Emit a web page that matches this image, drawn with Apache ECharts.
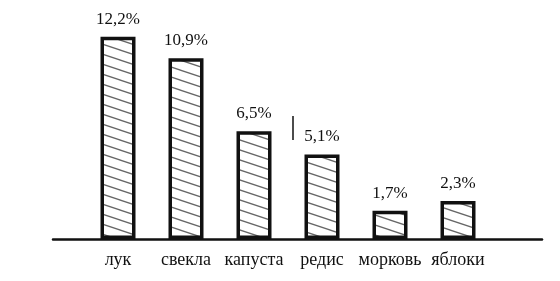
<!DOCTYPE html>
<html>
<head>
<meta charset="utf-8">
<script src="https://cdn.jsdelivr.net/npm/echarts@6/dist/echarts.min.js"></script>
<style>html,body{margin:0;padding:0;background:#fff}#c{width:560px;height:281px}</style>
</head>
<body>
<div id="c"></div>
<script>
const categories = ['лук', 'свекла', 'капуста', 'редис', 'морковь', 'яблоки'];
const values = [12.2, 10.9, 6.5, 5.1, 1.7, 2.3];

function hatch() {
  const w = 30, h = 10;
  const cv = document.createElement('canvas');
  cv.width = w; cv.height = h;
  const ctx = cv.getContext('2d');
  ctx.fillStyle = '#fff';
  ctx.fillRect(0, 0, w, h);
  ctx.strokeStyle = '#666';
  ctx.lineWidth = 1.3;
  for (let k = -1; k <= 1; k++) {
    ctx.beginPath();
    ctx.moveTo(-w, -h + k * h);
    ctx.lineTo(2 * w, 2 * h + k * h);
    ctx.stroke();
  }
  return cv;
}

const chart = echarts.init(document.getElementById('c'), null, {renderer: 'canvas'});
const font = '"Liberation Serif", "DejaVu Serif", serif';
chart.setOption({
  animation: false,
  backgroundColor: '#fff',
  grid: [
    {left: 84, right: 68, top: 7, bottom: 42},
    {left: 53, right: 18, top: 7, bottom: 42}
  ],
  xAxis: [
    {
      type: 'category', data: categories, gridIndex: 0,
      axisLine: {show: false}, axisTick: {show: false},
      axisLabel: {interval: 0, margin: 12, fontSize: 18, fontFamily: font, color: '#111'}
    },
    {
      type: 'value', gridIndex: 1, min: 0, max: 1,
      axisLine: {show: true, lineStyle: {color: '#111', width: 2.5}},
      axisTick: {show: false}, axisLabel: {show: false}, splitLine: {show: false}
    }
  ],
  yAxis: [
    {type: 'value', gridIndex: 0, min: 0, max: 14, show: false, splitLine: {show: false}},
    {type: 'value', gridIndex: 1, min: 0, max: 14, show: false, splitLine: {show: false}}
  ],
  series: [{
    type: 'bar',
    data: values,
    xAxisIndex: 0, yAxisIndex: 0,
    barWidth: 35,
    itemStyle: {
      color: {image: hatch(), repeat: 'repeat'},
      borderColor: '#111',
      borderWidth: 3.5
    },
    label: {
      show: true, position: 'top', distance: 9,
      fontSize: 17, fontFamily: font, color: '#111',
      formatter: p => String(p.value).replace('.', ',') + '%'
    }
  }],
  graphic: [{
    type: 'line',
    shape: {x1: 293, y1: 116, x2: 293, y2: 140},
    style: {stroke: '#111', lineWidth: 1.5}
  }]
});
</script>
</body>
</html>
